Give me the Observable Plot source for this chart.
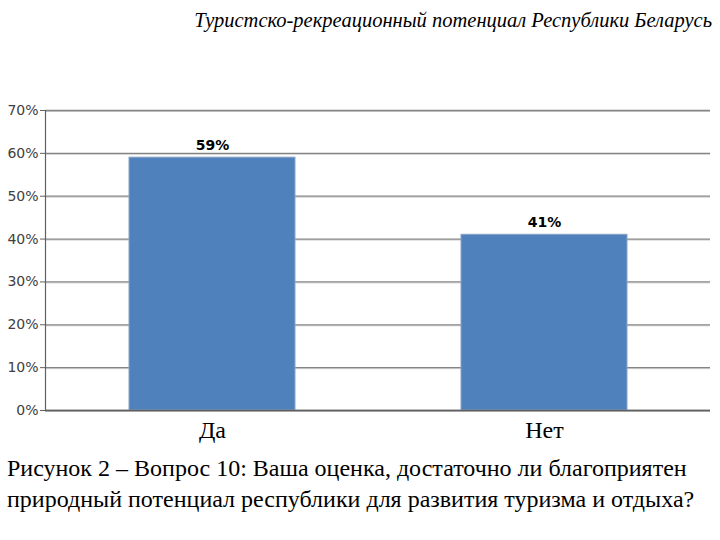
<!DOCTYPE html>
<html>
<head>
<meta charset="utf-8">
<script src="https://cdn.jsdelivr.net/npm/d3@7"></script>
<script src="https://cdn.jsdelivr.net/npm/@observablehq/plot@0.6"></script>
<style>
  html, body { margin: 0; padding: 0; background: white; width: 720px; height: 540px; overflow: hidden; }
  #wrap { position: relative; width: 720px; height: 540px; }
  #title { position: absolute; top: 8px; right: 8px; font-family: "Liberation Serif", serif; font-style: italic; font-size: 20.5px; line-height: 24px; color: #000; white-space: nowrap; }
  #chart { position: absolute; top: 40px; left: 0; }
  #caption { position: absolute; top: 453px; left: 7px; font-family: "Liberation Serif", serif; font-size: 24px; line-height: 31px; color: #000; white-space: nowrap; }
</style>
</head>
<body>
<div id="wrap">
  <div id="title">Туристско-рекреационный потенциал Республики Беларусь</div>
  <div id="chart"></div>
  <div id="caption">Рисунок 2 – Вопрос 10: Ваша оценка, достаточно ли благоприятен<br>природный потенциал республики для развития туризма и отдыха?</div>
</div>
<script>
const categories = ["Да", "Нет"];
const values = [0.59, 0.41];
const yTicks = [0, 0.1, 0.2, 0.3, 0.4, 0.5, 0.6, 0.7];

const data = categories.map((c, i) => ({ cat: c, v: values[i] }));
const pct = d3.format(".0%");

const chart = Plot.plot({
  width: 720,
  height: 410,
  marginTop: 70,
  marginBottom: 40,
  marginLeft: 45,
  marginRight: 10,
  style: { background: "white", fontFamily: "DejaVu Sans, sans-serif" },
  x: { domain: categories, paddingInner: 0.5, paddingOuter: 0.25, label: null },
  y: { domain: [0, 0.7], label: null },
  marks: [
    Plot.gridY(yTicks, { stroke: "#d0d0d0", strokeOpacity: 1, strokeWidth: 1, dy: 1 }),
    Plot.gridY(yTicks, { stroke: "#858585", strokeOpacity: 1, strokeWidth: 1.3 }),
    Plot.barY(data, { x: "cat", y: "v", fill: "#4f81bd", stroke: "#8aa4c6", strokeWidth: 1 }),
    Plot.text(data, { x: "cat", y: "v", text: d => pct(d.v), dy: -12, fontWeight: "bold", fontSize: 14, fill: "#000", fontFamily: "DejaVu Sans, sans-serif" }),
    Plot.axisY(yTicks, { tickFormat: pct, tickSize: 5, tickPadding: 2, fontSize: 14, color: "#404040", stroke: "#606060", fontFamily: "DejaVu Sans, sans-serif" }),
    Plot.frame({ anchor: "left", stroke: "#606060", strokeWidth: 1.2 }),
    Plot.ruleY([0], { stroke: "#606060", strokeWidth: 1.5 }),
    Plot.axisX({ tickSize: 0, tickPadding: 10, fontSize: 24, fontFamily: "Liberation Serif, serif", color: "#000" })
  ]
});
document.getElementById("chart").appendChild(chart);
</script>
</body>
</html>
